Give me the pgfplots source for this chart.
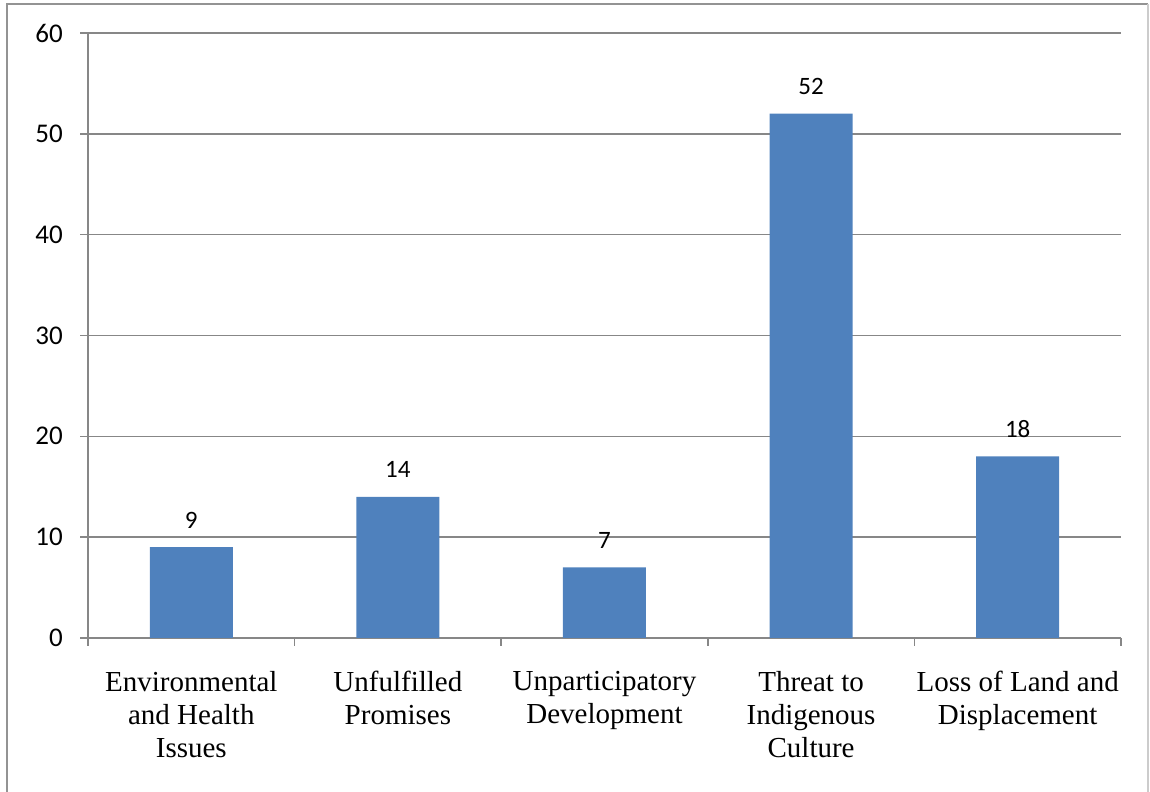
\documentclass[border=0pt]{standalone}
\usepackage{fontspec}
\setmainfont{Liberation Serif}
\newfontfamily\calibri{Carlito}
\usepackage{pgfplots}
\pgfplotsset{compat=1.18}
\definecolor{barblue}{HTML}{4F81BD}
\definecolor{gridgray}{HTML}{878787}
\begin{document}
\begin{tikzpicture}[x=1bp,y=1bp]
\path[use as bounding box] (0,0) rectangle (1150,792);
% outer frame of the figure
\draw[line width=2bp, color=gray!85] (7,-5) -- (7,788) -- (1148,788);
\draw[line width=1.5bp, color=gray!40] (1148,788) -- (1148,-5);
\begin{axis}[
  at={(88bp,154bp)}, anchor=south west,
  width=1033bp, height=605bp, scale only axis,
  ybar, bar width=83bp,
  xmin=-0.5, xmax=4.5, ymin=0, ymax=60,
  ytick={0,10,...,60},
  xtick={-0.5,0.5,1.5,2.5,3.5,4.5},
  xticklabels={},
  extra x ticks={0,1,2,3,4},
  extra x tick labels={{Environmental\\and Health\\Issues},
                       {Unfulfilled\\Promises},
                       {Unparticipatory\\Development},
                       {Threat to\\Indigenous\\Culture},
                       {Loss of Land and\\Displacement}},
  extra x tick style={major tick length=0pt,
    tick label style={font=\fontsize{29bp}{33bp}\selectfont, align=center,
      anchor=north, inner sep=0pt, yshift=-33bp}},
  axis x line*=bottom, axis y line*=left,
  ymajorgrids,
  major grid style={gridgray, line width=1.5bp},
  axis line style={gridgray, line width=1.5bp},
  tick style={gridgray, line width=1.5bp},
  tick align=outside,
  major tick length=8bp,
  /pgf/number format/assume math mode=true,
  yticklabel style={font=\calibri\fontsize{27bp}{32bp}\selectfont,
    inner sep=0pt, xshift=-17bp},
  nodes near coords,
  nodes near coords style={font=\calibri\fontsize{25bp}{30bp}\selectfont,
    black, inner sep=0pt, anchor=base, yshift=19bp},
  clip=false,
]
\addplot[fill=barblue, draw=none] coordinates {(0,9) (1,14) (2,7) (3,52) (4,18)};
\end{axis}
\end{tikzpicture}
\end{document}
